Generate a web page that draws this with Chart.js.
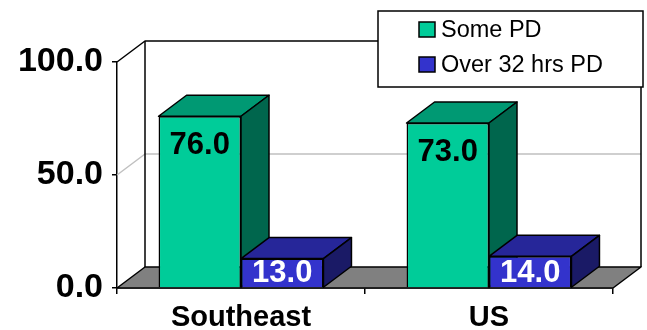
<!DOCTYPE html>
<html>
<head>
<meta charset="utf-8">
<script src="https://cdn.jsdelivr.net/npm/chart.js@4.4.0/dist/chart.umd.min.js"></script>
<style>
  html, body { margin: 0; padding: 0; background: #fff; }
  #wrap { width: 647px; height: 330px; }
</style>
</head>
<body>
<div id="wrap"><canvas id="c" width="647" height="330"></canvas></div>
<script>
// Chart data
const categories = ['Southeast', 'US'];
const seriesNames = ['Some PD', 'Over 32 hrs PD'];
const somePD = [76.0, 73.0];
const over32PD = [13.0, 14.0];
const yTicks = [0, 50, 100];

// Styling for the pseudo-3D look
const FONT = 'Liberation Sans, Arial, Helvetica, sans-serif';
const DEPTH = { dx: 28, dy: -21 };
const faceStyles = [
  { front: '#00CC99', top: '#009973', side: '#00664D', label: '#000000' },
  { front: '#3333CC', top: '#262699', side: '#1A1A66', label: '#FFFFFF' }
];

Chart.defaults.font.family = FONT;

function poly(ctx, pts, fill, stroke) {
  ctx.beginPath();
  ctx.moveTo(pts[0][0], pts[0][1]);
  for (let i = 1; i < pts.length; i++) ctx.lineTo(pts[i][0], pts[i][1]);
  ctx.closePath();
  if (fill) { ctx.fillStyle = fill; ctx.fill(); }
  if (stroke) { ctx.strokeStyle = stroke; ctx.stroke(); }
}

function line(ctx, pts, color) {
  ctx.beginPath();
  ctx.moveTo(pts[0][0], pts[0][1]);
  for (let i = 1; i < pts.length; i++) ctx.lineTo(pts[i][0], pts[i][1]);
  ctx.strokeStyle = color;
  ctx.stroke();
}

const threeD = {
  id: 'threeD',
  beforeDatasetsDraw(chart) {
    const { ctx, chartArea: a, scales: { y } } = chart;
    const { dx, dy } = DEPTH;
    const y0 = y.getPixelForValue(yTicks[0]);
    const yMax = y.getPixelForValue(yTicks[yTicks.length - 1]);
    ctx.save();
    ctx.lineJoin = 'round';

    // gridlines across side wall and back wall
    ctx.lineWidth = 1.5;
    yTicks.slice(1, -1).forEach(v => {
      const py = y.getPixelForValue(v);
      line(ctx, [[a.left, py], [a.left + dx, py + dy], [a.right + dx, py + dy]], '#C0C0C0');
    });

    // floor
    poly(ctx, [[a.left, y0], [a.right, y0], [a.right + dx, y0 + dy], [a.left + dx, y0 + dy]], '#808080', '#000');

    // wall edges
    line(ctx, [[a.left, yMax], [a.left + dx, yMax + dy], [a.right + dx, yMax + dy], [a.right + dx, y0 + dy]], '#000');
    line(ctx, [[a.left + dx, yMax + dy], [a.left + dx, y0 + dy]], '#000');

    // top and side faces of every bar
    chart.data.datasets.forEach((ds, i) => {
      const st = faceStyles[i];
      chart.getDatasetMeta(i).data.forEach(bar => {
        const p = bar.getProps(['x', 'y', 'base', 'width'], true);
        const x0 = p.x - p.width / 2, x1 = p.x + p.width / 2;
        poly(ctx, [[x0, p.y], [x1, p.y], [x1 + dx, p.y + dy], [x0 + dx, p.y + dy]], st.top, '#000');
        poly(ctx, [[x1, p.y], [x1 + dx, p.y + dy], [x1 + dx, p.base + dy], [x1, p.base]], st.side, '#000');
      });
    });
    ctx.restore();
  },
  afterDatasetsDraw(chart) {
    const { ctx } = chart;
    ctx.save();
    ctx.font = 'bold 31px ' + FONT;
    ctx.textAlign = 'center';
    ctx.textBaseline = 'alphabetic';
    chart.data.datasets.forEach((ds, i) => {
      ctx.fillStyle = faceStyles[i].label;
      chart.getDatasetMeta(i).data.forEach((bar, j) => {
        const p = bar.getProps(['x', 'y', 'base'], true);
        const by = Math.min(p.y + 38, p.base - 5);
        ctx.fillText(ds.data[j].toFixed(1), p.x, by);
      });
    });
    ctx.restore();
  },
  afterDraw(chart) {
    // legend box
    const { ctx } = chart;
    ctx.save();
    const bx = 378, by = 11, bw = 265, bh = 76;
    ctx.lineWidth = 1.5;
    ctx.fillStyle = '#fff';
    ctx.fillRect(bx, by, bw, bh);
    ctx.strokeStyle = '#000';
    ctx.strokeRect(bx, by, bw, bh);
    ctx.font = '23.5px ' + FONT;
    ctx.textAlign = 'left';
    ctx.textBaseline = 'alphabetic';
    chart.data.datasets.forEach((ds, i) => {
      const sy = 22 + i * 35;
      ctx.fillStyle = faceStyles[i].front;
      ctx.fillRect(419, sy, 16, 15);
      ctx.strokeStyle = '#000';
      ctx.strokeRect(419, sy, 16, 15);
      ctx.fillStyle = '#000';
      ctx.fillText(ds.label, 441, sy + 15);
    });
    ctx.restore();
  }
};

new Chart(document.getElementById('c'), {
  type: 'bar',
  data: {
    labels: categories,
    datasets: [
      { label: seriesNames[0], data: somePD, backgroundColor: faceStyles[0].front, borderColor: '#000', borderWidth: 1.5 },
      { label: seriesNames[1], data: over32PD, backgroundColor: faceStyles[1].front, borderColor: '#000', borderWidth: 1.5 }
    ]
  },
  options: {
    responsive: false,
    animation: false,
    devicePixelRatio: 1,
    layout: { padding: { top: 62, right: 34, left: 0, bottom: 0 } },
    datasets: { bar: { categoryPercentage: 0.665, barPercentage: 1.0 } },
    plugins: { legend: { display: false }, tooltip: { enabled: false } },
    scales: {
      x: {
        type: 'category',
        offset: true,
        grid: { offset: true, drawOnChartArea: false, drawTicks: true, tickLength: 6, color: '#000', lineWidth: 1.5 },
        border: { display: true, color: '#000', width: 1.5 },
        ticks: { color: '#000', font: { size: 29, weight: 'bold' }, padding: 7, maxRotation: 0 },
        afterFit: s => { s.height = 42; }
      },
      y: {
        min: 0,
        max: 100,
        afterBuildTicks: s => { s.ticks = yTicks.map(v => ({ value: v })); },
        grid: { drawOnChartArea: false, drawTicks: true, tickLength: 5, color: '#000', lineWidth: 1.5 },
        border: { display: true, color: '#000', width: 1.5 },
        ticks: { color: '#000', font: { size: 34, weight: 'bold' }, padding: 9, callback: v => Number(v).toFixed(1) },
        afterFit: s => { s.width = 117; }
      }
    }
  },
  plugins: [threeD]
});
</script>
</body>
</html>
